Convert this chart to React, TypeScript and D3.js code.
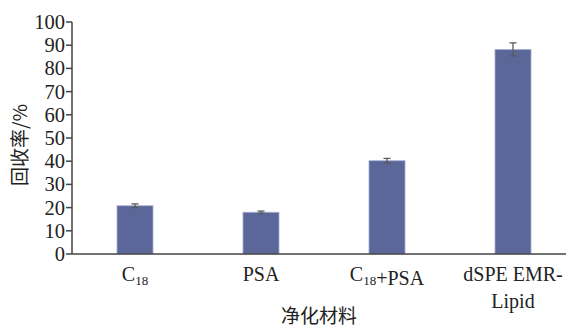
import React from 'react';
import * as d3 from 'd3';

const categories = ['C18', 'PSA', 'C18+PSA', 'dSPE EMR-Lipid'];
const recovery = [20.8, 18.0, 40.2, 88.2];
const errors = [0.8, 0.5, 1.0, 2.8];
const yTicks = [0, 10, 20, 30, 40, 50, 60, 70, 80, 90, 100];

const W = 566;
const H = 329;
const margin = { left: 72, top: 22, bottom: 75 };
const font = '"Liberation Serif", "Times New Roman", serif';
const cjk = '"Noto Sans CJK SC", sans-serif';

// renders "C18" with subscript digits
const Label: React.FC<{ name: string; x: number; y: number }> = ({ name, x, y }) => {
  if (name === 'dSPE EMR-Lipid') {
    return (
      <text x={x} y={y} textAnchor="middle" fontFamily={font} fontSize={20} fill="#222">
        <tspan x={x}>dSPE EMR-</tspan>
        <tspan x={x} dy={27}>Lipid</tspan>
      </text>
    );
  }
  const parts = name.split('C18');
  return (
    <text x={x} y={y} textAnchor="middle" fontFamily={font} fontSize={20} fill="#222">
      {parts.map((p, i) => (
        <React.Fragment key={i}>
          {i > 0 && (
            <>
              <tspan>C</tspan>
              <tspan fontSize={13} dy={4}>18</tspan>
              <tspan dy={-4}>{''}</tspan>
            </>
          )}
          {p && <tspan>{p}</tspan>}
        </React.Fragment>
      ))}
    </text>
  );
};

const App: React.FC = () => {
  const y0 = H - margin.bottom; // 254
  const x = d3.scaleBand<string>()
    .domain(categories)
    .range([margin.left, margin.left + 4 * 126])
    .paddingInner(0.714)
    .paddingOuter(0.357);
  const y = d3.scaleLinear().domain([0, 100]).range([y0, margin.top]);

  return (
    <svg width={W} height={H} style={{ position: 'absolute', left: 0, top: 0, background: '#fff' }}>
      {/* bars */}
      {categories.map((c, i) => (
        <rect
          key={c}
          x={x(c)}
          y={y(recovery[i])}
          width={x.bandwidth()}
          height={y0 - y(recovery[i])}
          fill="#5a6798"
          stroke="#a9b1d6"
          strokeWidth={0.8}
        />
      ))}

      {/* error bars */}
      {categories.map((c, i) => {
        const cx = (x(c) ?? 0) + x.bandwidth() / 2;
        const top = y(recovery[i] + errors[i]);
        const bot = y(recovery[i] - errors[i]);
        return (
          <g key={`err-${c}`} stroke="#5a5a5a" strokeWidth={1.3}>
            <line x1={cx} x2={cx} y1={top} y2={bot} />
            <line x1={cx - 3.5} x2={cx + 3.5} y1={top} y2={top} />
            <line x1={cx - 3.5} x2={cx + 3.5} y1={bot} y2={bot} />
          </g>
        );
      })}

      {/* axes */}
      <line x1={margin.left} x2={margin.left} y1={y(100)} y2={y0} stroke="#444" strokeWidth={1.5} />
      <line x1={margin.left} x2={W} y1={y0} y2={y0} stroke="#444" strokeWidth={1.5} />
      {yTicks.map(t => (
        <g key={t}>
          <line x1={margin.left - 6} x2={margin.left} y1={y(t)} y2={y(t)} stroke="#444" strokeWidth={1.5} />
          <text x={margin.left - 7} y={y(t) + 7} textAnchor="end" fontFamily={font} fontSize={20.5} fill="#222">
            {t}
          </text>
        </g>
      ))}

      {/* x labels */}
      {categories.map(c => (
        <Label key={c} name={c} x={(x(c) ?? 0) + x.bandwidth() / 2} y={281} />
      ))}

      {/* titles */}
      <text x={319} y={323} textAnchor="middle" fontFamily={cjk} fontSize={19} fill="#222">净化材料</text>
      <text
        transform={`translate(27, 145) rotate(-90)`}
        textAnchor="middle"
        fontFamily={cjk}
        fontSize={19}
        fill="#222"
      >
        回收率/%
      </text>
    </svg>
  );
};

export default App;
